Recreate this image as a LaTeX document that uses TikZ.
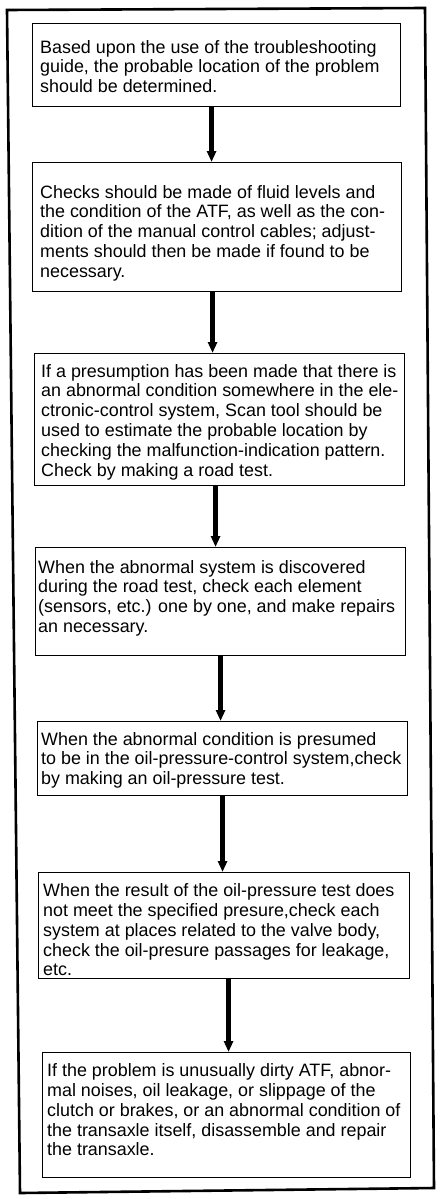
\documentclass[tikz,border=0pt]{standalone}
\usepackage{fontspec}
\setmainfont{Liberation Sans}
\usetikzlibrary{arrows.meta}
\begin{document}
\begin{tikzpicture}[x=1pt,y=-1pt,
  stepbox/.style={draw, line width=1.1pt, inner sep=0pt, anchor=north west},
  steptext/.style={align=left, inner sep=0pt, anchor=north west, font=\fontsize{17.9pt}{19.8pt}\selectfont},
  flow/.style={line width=4.6pt, -{Triangle[width=9pt,length=11pt]}},
  frame/.style={line width=2.6pt, line join=miter}]
\useasboundingbox (0,0) rectangle (447,1199);
\draw[frame] (7,10) -- (425,8) -- (434,1188) -- (20,1193) -- cycle;

\node[stepbox, minimum width=368pt, minimum height=83pt] (b1) at (32,23) {};
\node[stepbox, minimum width=369pt, minimum height=129pt] (b2) at (32,162) {};
\node[stepbox, minimum width=370pt, minimum height=132pt] (b3) at (34,353) {};
\node[stepbox, minimum width=370pt, minimum height=108pt] (b4) at (35,547) {};
\node[stepbox, minimum width=370pt, minimum height=74pt] (b5) at (37,721) {};
\node[stepbox, minimum width=371pt, minimum height=106pt] (b6) at (38,872) {};
\node[stepbox, minimum width=368pt, minimum height=125pt] (b7) at (42,1052) {};

\node[steptext] (t1) at ([xshift=8pt,yshift=-17pt]b1.north west)
  {Based upon the use of the troubleshooting\\guide, the probable location of the problem\\should be determined.};
\node[steptext] (t2) at ([xshift=8pt,yshift=-23pt]b2.north west)
  {Checks should be made of fluid levels and\\the condition of the ATF, as well as the con-\\dition of the manual control cables; adjust-\\ments should then be made if found to be\\necessary.};
\node[steptext] (t3) at ([xshift=7pt,yshift=-11pt]b3.north west)
  {If a presumption has been made that there is\\an abnormal condition somewhere in the ele-\\ctronic-control system, Scan tool should be\\used to estimate the probable location by\\checking the malfunction-indication pattern.\\Check by making a road test.};
\node[steptext] (t4) at ([xshift=3pt,yshift=-13pt]b4.north west)
  {When the abnormal system is discovered\\during the road test, check each element\\(sensors, etc.) one by one, and make repairs\\an necessary.};
\node[steptext] (t5) at ([xshift=4pt,yshift=-11pt]b5.north west)
  {When the abnormal condition is presumed\\to be in the oil-pressure-control system,check\\by making an oil-pressure test.};
\node[steptext] (t6) at ([xshift=5pt,yshift=-11.5pt]b6.north west)
  {When the result of the oil-pressure test does\\not meet the specified presure,check each\\system at places related to the valve body,\\check the oil-presure passages for leakage,\\etc.};
\node[steptext] (t7) at ([xshift=5pt,yshift=-11.5pt]b7.north west)
  {If the problem is unusually dirty ATF, abnor-\\mal noises, oil leakage, or slippage of the\\clutch or brakes, or an abnormal condition of\\the transaxle itself, disassemble and repair\\the transaxle.};

\draw[flow] ([xshift=-5pt]b1.south) -- ([xshift=-5pt]b1.south |- b2.north);
\draw[flow] ([xshift=-4.5pt]b2.south) -- ([xshift=-4.5pt]b2.south |- b3.north);
\draw[flow] ([xshift=-4pt]b3.south) -- ([xshift=-4pt]b3.south |- b4.north);
\draw[flow] (b4.south) -- (b4.south |- b5.north);
\draw[flow] (b5.south) -- (b5.south |- b6.north);
\draw[flow] ([xshift=4.5pt]b6.south) -- ([xshift=4.5pt]b6.south |- b7.north);
\end{tikzpicture}
\end{document}
